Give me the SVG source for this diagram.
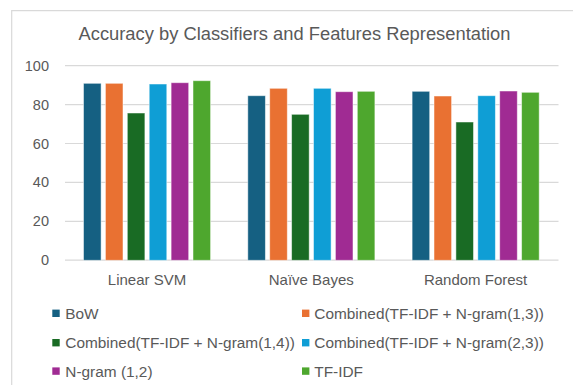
<svg xmlns="http://www.w3.org/2000/svg" width="573" height="385" viewBox="0 0 573 385">
<style>
text{font-family:"Liberation Sans",Arial,sans-serif;fill:#595959}
.ax{font-size:14.5px;text-anchor:end}
.cat{font-size:15px;text-anchor:middle}
.lg{font-size:15.4px}
.grid{stroke:#D9D9D9;stroke-width:1.2;fill:none}
.bar{stroke:#ffffff;stroke-opacity:0.55;stroke-width:0.9}
.s1{fill:#156082}.s2{fill:#E97132}.s3{fill:#196B24}.s4{fill:#0F9ED5}.s5{fill:#A02B93}.s6{fill:#4EA72E}
</style>
<rect x="0" y="0" width="573" height="385" fill="#ffffff"/>
<path d="M11.7,385 V10.7 H573" stroke="#D9D9D9" stroke-width="1.2" fill="none"/>
<text x="294.5" y="39.5" font-size="17.5" text-anchor="middle" textLength="432" lengthAdjust="spacingAndGlyphs">Accuracy by Classifiers and Features Representation</text>
<g id="grid">
<path class="grid" d="M65,65.7H558.5M65,104.6H558.5M65,143.5H558.5M65,182.4H558.5M65,221.3H558.5M65,260.2H558.5"/>
</g>
<g id="yaxis">
<text class="ax" x="49" y="70.7">100</text>
<text class="ax" x="49" y="109.6">80</text>
<text class="ax" x="49" y="148.5">60</text>
<text class="ax" x="49" y="187.4">40</text>
<text class="ax" x="49" y="226.3">20</text>
<text class="ax" x="49" y="265.2">0</text>
</g>
<g id="bars-linear-svm">
<rect class="bar s1" x="83.5" y="83.3" width="17.6" height="177"/>
<rect class="bar s2" x="105.4" y="83.3" width="17.6" height="177"/>
<rect class="bar s3" x="127.3" y="113" width="17.6" height="147.3"/>
<rect class="bar s4" x="149.2" y="84" width="17.6" height="176.3"/>
<rect class="bar s5" x="171.1" y="82.7" width="17.6" height="177.6"/>
<rect class="bar s6" x="193" y="80.7" width="17.6" height="179.6"/>
</g>
<g id="bars-naive-bayes">
<rect class="bar s1" x="247.8" y="95.7" width="17.6" height="164.6"/>
<rect class="bar s2" x="269.7" y="88.3" width="17.6" height="172"/>
<rect class="bar s3" x="291.6" y="114.3" width="17.6" height="146"/>
<rect class="bar s4" x="313.5" y="88.3" width="17.6" height="172"/>
<rect class="bar s5" x="335.4" y="91.7" width="17.6" height="168.6"/>
<rect class="bar s6" x="357.3" y="91.3" width="17.6" height="169"/>
</g>
<g id="bars-random-forest">
<rect class="bar s1" x="412.1" y="91.3" width="17.6" height="169"/>
<rect class="bar s2" x="434" y="96" width="17.6" height="164.3"/>
<rect class="bar s3" x="455.9" y="122" width="17.6" height="138.3"/>
<rect class="bar s4" x="477.8" y="95.7" width="17.6" height="164.6"/>
<rect class="bar s5" x="499.7" y="91" width="17.6" height="169.3"/>
<rect class="bar s6" x="521.6" y="92.3" width="17.6" height="168"/>
</g>
<g id="xaxis">
<text class="cat" x="147" y="285">Linear SVM</text>
<text class="cat" x="311.3" y="285">Naïve Bayes</text>
<text class="cat" x="475.6" y="285">Random Forest</text>
</g>
<g id="legend">
<rect class="s1" x="52.3" y="309.6" width="7.4" height="7.4"/>
<text class="lg" x="65.3" y="318.7">BoW</text>
<rect class="s2" x="302" y="309.6" width="7.4" height="7.4"/>
<text class="lg" x="314.3" y="318.7">Combined(TF-IDF + N-gram(1,3))</text>
<rect class="s3" x="52.3" y="339" width="7.4" height="7.4"/>
<text class="lg" x="65.3" y="348.1">Combined(TF-IDF + N-gram(1,4))</text>
<rect class="s4" x="302" y="339" width="7.4" height="7.4"/>
<text class="lg" x="314.3" y="348.1">Combined(TF-IDF + N-gram(2,3))</text>
<rect class="s5" x="52.3" y="367.4" width="7.4" height="7.4"/>
<text class="lg" x="65.3" y="376.5">N-gram (1,2)</text>
<rect class="s6" x="302" y="367.4" width="7.4" height="7.4"/>
<text class="lg" x="314.3" y="376.5">TF-IDF</text>
</g>
</svg>
